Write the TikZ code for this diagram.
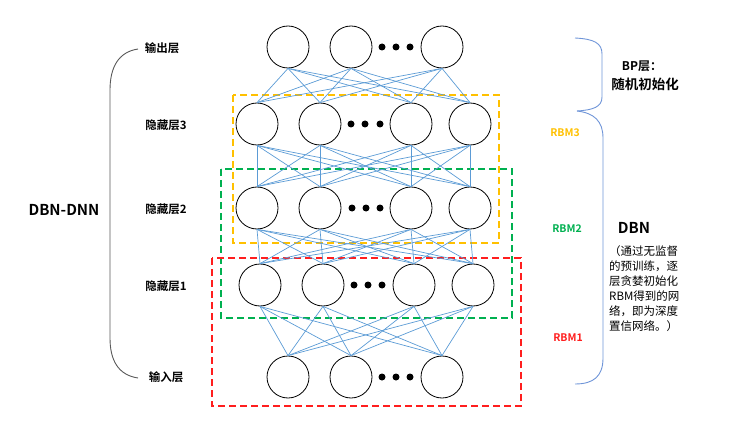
\documentclass[tikz,border=0pt]{standalone}
\usepackage{fontspec}
\setmainfont{Noto Sans CJK SC}
\newfontfamily\cjkb{Noto Sans CJK SC Bold}
\usetikzlibrary{calc}
\definecolor{linkblue}{HTML}{5B9BD5}
\definecolor{bracegray}{HTML}{595959}
\definecolor{braceblue}{HTML}{6F95D8}
\definecolor{rbmyellow}{HTML}{FFC000}
\definecolor{rbmgreen}{HTML}{00B050}
\definecolor{rbmred}{HTML}{FF1E1E}
\begin{document}
\begin{tikzpicture}[x=1pt,y=-1pt,
  neuron/.style={circle,draw=black,line width=0.8pt,minimum size=42pt,inner sep=0pt,fill=white},
  dotc/.style={circle,fill=black,minimum size=7pt,inner sep=0pt},
  link/.style={draw=linkblue,line width=0.7pt},
  rbmbox/.style={dashed,dash pattern=on 7pt off 4pt,line width=1.2pt},
  lbl/.style={font=\cjkb\fontsize{11.5}{13}\selectfont,inner sep=0pt},
  rbmlbl/.style={font=\cjkb\fontsize{10.5}{12}\selectfont,inner sep=0pt}
]
\useasboundingbox (0,0) rectangle (741,422);

% RBM boxes
\draw[rbmbox,draw=rbmyellow] (233,95) rectangle (499,243);
\draw[rbmbox,draw=rbmgreen] (221,169) rectangle (512,318);
\draw[rbmbox,draw=rbmred] (212,258) rectangle (521,406);

% neurons
\foreach \x [count=\i] in {288,351,442} \node[neuron] (o\i) at (\x,47) {};
\foreach \x [count=\i] in {257,320,411,470} \node[neuron] (a\i) at (\x,124) {};
\foreach \x [count=\i] in {257,320,411,470} \node[neuron] (b\i) at (\x,208) {};
\foreach \x [count=\i] in {260,323,414,473} \node[neuron] (c\i) at (\x,285) {};
\foreach \x [count=\i] in {288,351,442} \node[neuron] (n\i) at (\x,377) {};

% dots
\foreach \x [count=\i] in {382,396,410} \node[dotc] (od\i) at (\x,47) {};
\foreach \x [count=\i] in {351,365,380} \node[dotc] (ad\i) at (\x,124) {};
\foreach \x [count=\i] in {352,366,380} \node[dotc] (bd\i) at (\x,208) {};
\foreach \x [count=\i] in {354,368,382} \node[dotc] (cd\i) at (\x,285) {};
\foreach \x [count=\i] in {382,396,410} \node[dotc] (nd\i) at (\x,377) {};

% connections
\foreach \i in {1,2,3} \foreach \j in {1,2,3,4} \draw[link] (o\i.south) -- (a\j.north);
\foreach \i in {1,2,3,4} \foreach \j in {1,2,3,4} \draw[link] (a\i.south) -- (b\j.north);
\foreach \i in {1,2,3,4} \foreach \j in {1,2,3,4} \draw[link] (b\i.south) -- (c\j.north);
\foreach \i in {1,2,3,4} \foreach \j in {1,2,3} \draw[link] (c\i.south) -- (n\j.north);

% left labels
\node[lbl] (lo) at (162,48) {输出层};
\node[lbl] (l3) at (166,125) {隐藏层3};
\node[lbl] (l2) at (166,209) {隐藏层2};
\node[lbl] (l1) at (166,286) {隐藏层1};
\node[lbl] (li) at (166,377) {输入层};
\node[font=\cjkb\fontsize{15}{17}\selectfont,inner sep=0pt] (dd) at (64,210) {DBN-DNN};

% left brace
\coordinate (lbt) at (138,49);
\coordinate (lbb) at (138,378);
\draw[bracegray,line width=0.9pt] (lbt) .. controls (118,52) and (110,68) .. (110,90) -- (110,338) .. controls (110,360) and (118,375) .. (lbb);

% right braces
\coordinate (rt) at (575,38);
\coordinate (rm) at (577,111);
\coordinate (rb) at (575,384);
\draw[braceblue,line width=0.9pt] (rt) .. controls (594,39) and (602,43) .. (602,54) -- (602,97) .. controls (602,107) and (593,110) .. (rm);
\draw[braceblue,line width=0.9pt] (rm) .. controls (594,113) and (603,121) .. (603,138) -- (603,358) .. controls (603,376) and (594,384) .. (rb);

% right labels
\node[font=\cjkb\fontsize{12}{14}\selectfont,inner sep=0pt] (bp) at (642,66) {BP层：};
\node[font=\cjkb\fontsize{13.5}{15}\selectfont,inner sep=0pt] (rand) at (645,84) {随机初始化};
\node[rbmlbl,text=rbmyellow] (r3) at (565,133) {RBM3};
\node[rbmlbl,text=rbmgreen] (r2) at (567,229) {RBM2};
\node[rbmlbl,text=rbmred] (r1) at (568,338) {RBM1};
\node[font=\cjkb\fontsize{15}{17}\selectfont,inner sep=0pt] (dbn) at (634,228) {DBN};
\node[anchor=north west,align=left,inner sep=0pt,font=\fontsize{11.5}{15}\selectfont] (desc) at (609,245)
  {（通过无监督\\的预训练，逐\\层贪婪初始化\\RBM得到的网\\络，即为深度\\置信网络。）};
\end{tikzpicture}
\end{document}
